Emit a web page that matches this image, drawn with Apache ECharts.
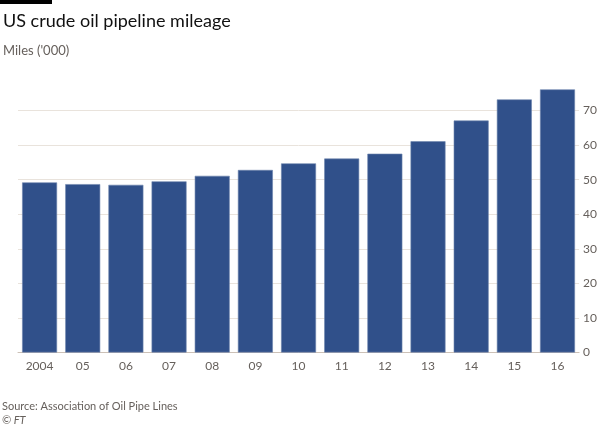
<!DOCTYPE html>
<html><head><meta charset="utf-8">
<script src="https://cdn.jsdelivr.net/npm/echarts@6/dist/echarts.min.js"></script>
<style>html,body{margin:0;padding:0;background:#fff}#c{width:600px;height:427px}</style>
</head><body><div id="c"></div>
<script>
const categories = ['2004','05','06','07','08','09','10','11','12','13','14','15','16'];
const mileage = [49.2, 48.7, 48.5, 49.5, 51.1, 52.8, 54.7, 56.1, 57.5, 61.1, 67.1, 73.2, 76.1];
const yTicks = [0, 10, 20, 30, 40, 50, 60, 70];

const chart = echarts.init(document.getElementById('c'));
const font = 'Lato, "Open Sans", sans-serif';
chart.setOption({
  backgroundColor: '#fff',
  animation: false,
  graphic: [
    {type:'rect', shape:{x:0,y:0,width:52,height:4}, style:{fill:'#000'}},
    {type:'text', left:3, top:12, style:{text:'US crude oil pipeline mileage', fontFamily:font, fontSize:18, fill:'#111'}},
    {type:'text', left:3, top:44, style:{text:"Miles ('000)", fontFamily:font, fontSize:13, fill:'#66605c'}},
    {type:'text', left:2, top:401, style:{text:'Source: Association of Oil Pipe Lines', fontFamily:font, fontSize:11, fill:'#66605c'}},
    {type:'text', left:2, top:415, style:{text:'© FT', fontFamily:font, fontSize:11, fontStyle:'italic', fill:'#66605c'}}
  ],
  grid: {left:18, right:20, top:86.3, bottom:427-352.5, containLabel:false},
  xAxis: {
    type:'category', data:categories,
    axisLine:{show:true, lineStyle:{color:'#ccc1b7', width:1}},
    axisTick:{show:false},
    axisLabel:{color:'#66605c', fontFamily:font, fontSize:12, margin:8}
  },
  yAxis: {
    type:'value', position:'right', min:0, max:77, interval:10,
    axisLine:{show:false}, axisTick:{show:false},
    axisLabel:{color:'#66605c', fontFamily:font, fontSize:12, margin:4, showMaxLabel:false,
      formatter: v => yTicks.includes(v) ? String(v) : ''},
    splitLine:{show:true, showMaxLine:false, lineStyle:{color:'#e9e3dc', width:1}}
  },
  series: [{
    type:'bar', data:mileage, barCategoryGap:'19%',
    itemStyle:{color:'#30508a', borderColor:'#6d84ad', borderWidth:0.6}
  }]
});
</script></body></html>
